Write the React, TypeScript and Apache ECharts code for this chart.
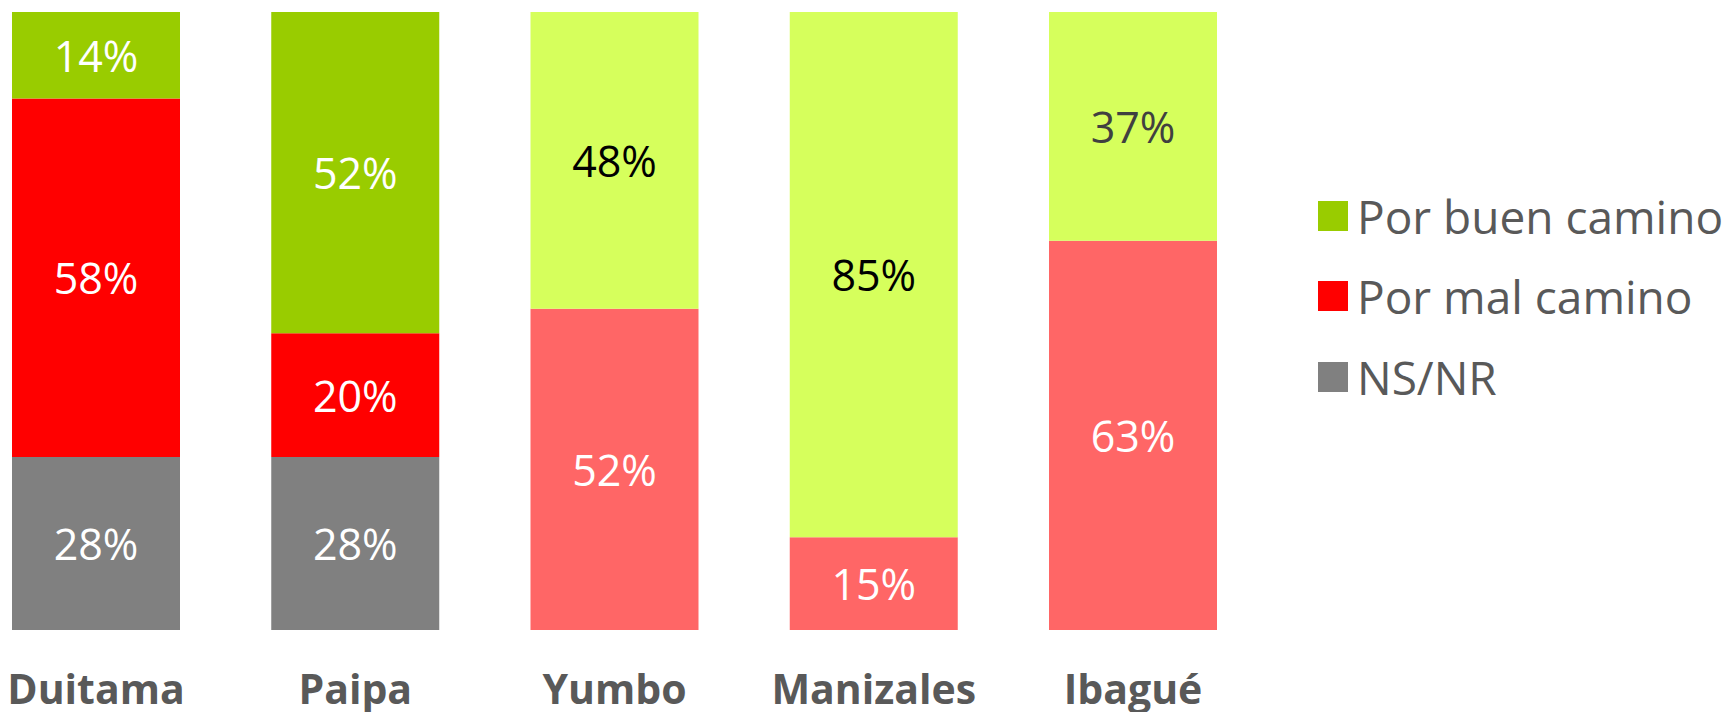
import React, { useEffect, useRef } from "react";
import * as echarts from "echarts";

const categories = ["Duitama", "Paipa", "Yumbo", "Manizales", "Ibagué"];
const buenCamino = [14, 52, 48, 85, 37];
const malCamino = [58, 20, 52, 15, 63];
const nsnr: (number | null)[] = [28, 28, null, null, null];

const darkGreen = "#99CC00";
const lightGreen = "#D6FF5C";
const darkRed = "#FF0000";
const lightRed = "#FF6666";
const gray = "#808080";

const buenColors = [darkGreen, darkGreen, lightGreen, lightGreen, lightGreen];
const malColors = [darkRed, darkRed, lightRed, lightRed, lightRed];
const buenLabelColors = ["#FFFFFF", "#FFFFFF", "#000000", "#000000", "#404040"];

const FONT = "'Open Sans', 'Noto Sans', sans-serif";

export default function App() {
  const ref = useRef<HTMLDivElement>(null);
  useEffect(() => {
    if (!ref.current) return;
    const chart = echarts.init(ref.current, undefined, { renderer: "svg" });
    const labelBase = {
      show: true,
      position: "inside" as const,
      fontFamily: FONT,
      fontSize: 43,
      color: "#FFFFFF",
      formatter: (p: any) => p.value + "%",
    };
    const legendBase = {
      orient: "vertical" as const,
      left: 1313,
      itemWidth: 30,
      itemHeight: 30,
      icon: "rect",
      textStyle: {
        fontFamily: FONT,
        fontSize: 46,
        color: "#595959",
        padding: [0, 0, 0, 4],
      },
    };
    chart.setOption({
      animation: false,
      color: [gray, darkRed, darkGreen],
      legend: [
        { ...legendBase, top: 188, data: ["Por buen camino"] },
        { ...legendBase, top: 268, data: ["Por mal camino"] },
        { ...legendBase, top: 349, data: ["NS/NR"] },
      ],
      grid: { left: 96, right: 596, top: 12, bottom: 82, containLabel: false },
      xAxis: {
        type: "category",
        data: categories,
        boundaryGap: false,
        axisLine: { show: false },
        axisTick: { show: false },
        axisLabel: {
          fontFamily: FONT,
          fontSize: 41,
          fontWeight: "bold",
          color: "#595959",
          margin: 37,
          interval: 0,
        },
      },
      yAxis: {
        type: "value",
        min: 0,
        max: 100,
        show: false,
        splitLine: { show: false },
      },
      series: [
        {
          name: "NS/NR",
          type: "bar",
          stack: "total",
          barWidth: 168,
          itemStyle: { color: gray },
          label: labelBase,
          data: nsnr.map((v) => (v === null ? "-" : v)),
        },
        {
          name: "Por mal camino",
          type: "bar",
          stack: "total",
          barWidth: 168,
          itemStyle: { color: darkRed },
          label: labelBase,
          data: malCamino.map((v, i) => ({
            value: v,
            itemStyle: { color: malColors[i] },
          })),
        },
        {
          name: "Por buen camino",
          type: "bar",
          stack: "total",
          barWidth: 168,
          itemStyle: { color: darkGreen },
          label: labelBase,
          data: buenCamino.map((v, i) => ({
            value: v,
            itemStyle: { color: buenColors[i] },
            label: { color: buenLabelColors[i] },
          })),
        },
      ],
    });
    return () => chart.dispose();
  }, []);
  return (
    <div
      ref={ref}
      style={{ position: "fixed", left: 0, top: 0, width: 1729, height: 712, background: "#FFFFFF" }}
    />
  );
}
